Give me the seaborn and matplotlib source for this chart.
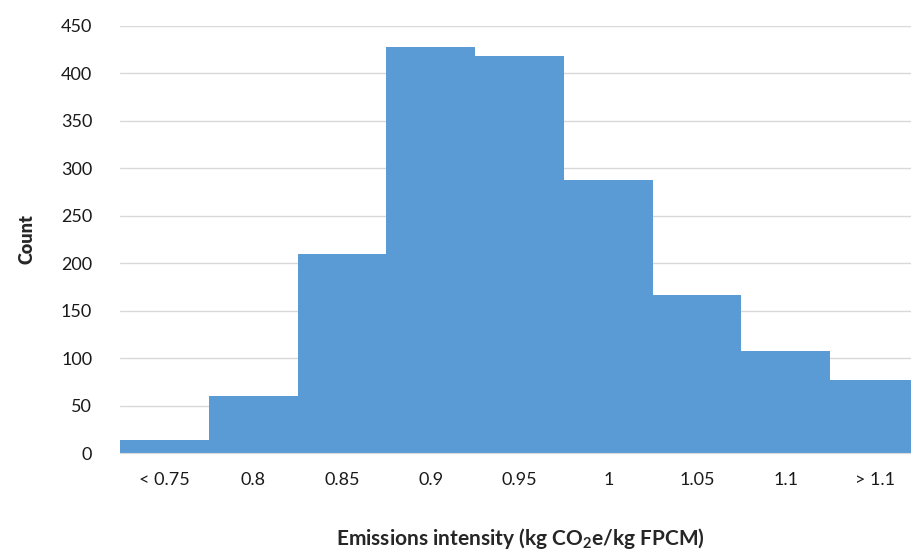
import pandas as pd
import seaborn as sns
import matplotlib.pyplot as plt

# histogram bins
bins = ["< 0.75", "0.8", "0.85", "0.9", "0.95", "1", "1.05", "1.1", "> 1.1"]
counts = [14, 60, 210, 428, 418, 288, 166, 107, 77]
yticks = [0, 50, 100, 150, 200, 250, 300, 350, 400, 450]

df = pd.DataFrame({"bin": bins, "count": counts})

sns.set_style("white")
plt.rcParams["font.family"] = ["Lato", "DejaVu Sans"]
plt.rcParams["mathtext.fontset"] = "custom"
plt.rcParams["mathtext.rm"] = "Lato"
plt.rcParams["mathtext.bf"] = "Lato:bold"

fig = plt.figure(figsize=(9.12, 5.56), dpi=100)
ax = fig.add_axes([120 / 912, 1 - 453 / 556, 799 / 912, (453 - 26) / 556])

sns.barplot(data=df, x="bin", y="count", color="#5B9BD5", saturation=1,
            width=1.0, linewidth=0, ax=ax, zorder=2)

ax.set_ylim(0, 450)
ax.set_yticks(yticks)
ax.set_xlim(-0.5, len(bins) - 0.5)
ax.grid(axis="y", color="#D9D9D9", linewidth=1, zorder=0)
ax.set_axisbelow(True)
for s in ["top", "right", "left"]:
    ax.spines[s].set_visible(False)
ax.spines["bottom"].set_color("#D9D9D9")

ax.tick_params(axis="y", length=0, pad=20, labelsize=13, labelcolor="#1a1a1a")
ax.tick_params(axis="x", length=0, pad=14, labelsize=13, labelcolor="#1a1a1a")

ax.set_ylabel("Count", fontsize=13, fontweight="heavy", labelpad=18)
ax.set_xlabel(r"Emissions intensity (kg CO$_\mathbf{2}$e/kg FPCM)",
              fontsize=15, fontweight="bold")
ax.xaxis.set_label_coords(400 / 799, -(526 - 453) / 427)

fig.savefig("out.png", dpi=100)
